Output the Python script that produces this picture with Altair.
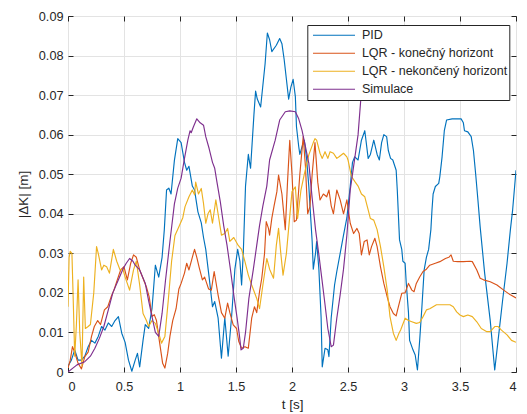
import altair as alt
import pandas as pd

# ---------------- data ----------------
PID_T = [0.00, 0.03, 0.06, 0.09, 0.12, 0.15, 0.18, 0.21, 0.24, 0.27, 0.30, 0.33, 0.36, 0.39, 0.42, 0.45,
         0.48, 0.51, 0.54, 0.57, 0.60, 0.62, 0.64, 0.67, 0.69, 0.72, 0.75, 0.78, 0.81, 0.84, 0.86, 0.88,
         0.90, 0.92, 0.95, 0.98, 1.01, 1.04, 1.06, 1.08, 1.11, 1.13, 1.16, 1.19, 1.21, 1.23, 1.26, 1.29,
         1.31, 1.34, 1.37, 1.40, 1.43, 1.46, 1.49, 1.515, 1.535, 1.55, 1.565, 1.585, 1.61, 1.63, 1.66,
         1.675, 1.69, 1.72, 1.76, 1.78, 1.80, 1.82, 1.86, 1.89, 1.91, 1.93, 1.95, 1.97, 1.99, 2.01, 2.03,
         2.04, 2.06, 2.07, 2.09, 2.11, 2.13, 2.15, 2.18, 2.19, 2.21, 2.22, 2.24, 2.26, 2.27, 2.295, 2.32,
         2.33, 2.35, 2.38, 2.40, 2.43, 2.46, 2.49, 2.52, 2.54, 2.56, 2.59, 2.62, 2.65, 2.68, 2.70, 2.73,
         2.76, 2.78, 2.80, 2.82, 2.845, 2.86, 2.88, 2.90, 2.93, 2.94, 2.96, 2.98, 2.99, 3.01, 3.02, 3.04,
         3.05, 3.08, 3.10, 3.12, 3.14, 3.16, 3.18, 3.20, 3.22, 3.24, 3.25, 3.26, 3.28, 3.31, 3.32, 3.34,
         3.36, 3.38, 3.43, 3.51, 3.53, 3.54, 3.57, 3.60, 3.62, 3.64, 3.66, 3.68, 3.72, 3.77, 3.81, 3.84,
         3.88, 3.92, 3.95, 3.97, 4.00]
PID_V = [0.0015, 0.003, 0.0056, 0.003, 0.003, 0.004, 0.0064, 0.008, 0.0073, 0.009, 0.0115, 0.0106, 0.0124, 0.0115, 0.013, 0.014,
         0.0098, 0.0075, 0.003, 0.0002, 0.003, 0.0047, 0.0013, 0.008, 0.012, 0.011, 0.016, 0.027, 0.024, 0.029, 0.036, 0.046,
         0.0465, 0.045, 0.0535, 0.059, 0.058, 0.053, 0.051, 0.052, 0.047, 0.046, 0.0405, 0.0377, 0.034, 0.031, 0.024, 0.0165,
         0.0178, 0.0137, 0.0035, 0.0137, 0.004, 0.0137, 0.026, 0.031, 0.028, 0.022, 0.030, 0.047, 0.055, 0.0515, 0.065,
         0.071, 0.069, 0.067, 0.078, 0.0857, 0.084, 0.081, 0.0826, 0.0843, 0.083, 0.079, 0.074, 0.069, 0.072, 0.074, 0.0696,
         0.062, 0.057, 0.055, 0.057, 0.0586, 0.054, 0.047, 0.033, 0.026, 0.030, 0.033, 0.026, 0.0137, 0.0013, 0.006, 0.0056,
         0.0039, 0.0137, 0.022, 0.0254, 0.030, 0.0346, 0.039, 0.047, 0.053, 0.0544, 0.0536, 0.0586, 0.061, 0.054, 0.055, 0.0586,
         0.055, 0.0536, 0.058, 0.060, 0.0595, 0.056, 0.054, 0.0536, 0.051, 0.046, 0.0334, 0.031, 0.028, 0.0275, 0.0225, 0.015,
         0.008, 0.0056, 0.0043, 0.0005, 0.008, 0.0165, 0.0258, 0.029, 0.031, 0.036, 0.041, 0.045, 0.0469, 0.0477, 0.0494, 0.0544,
         0.061, 0.0637, 0.064, 0.064, 0.063, 0.061, 0.0607, 0.0595, 0.056, 0.050, 0.0435, 0.0367, 0.025, 0.013, 0.0005, 0.008,
         0.018, 0.0275, 0.036, 0.041, 0.051]

LQRK_T = [0.00, 0.02, 0.04, 0.06, 0.09, 0.12, 0.15, 0.18, 0.21, 0.235, 0.265, 0.29, 0.325, 0.355, 0.385, 0.41,
          0.44, 0.47, 0.50, 0.53, 0.56, 0.585, 0.61, 0.64, 0.665, 0.70, 0.725, 0.75, 0.77, 0.79, 0.815, 0.845,
          0.865, 0.89, 0.91, 0.935, 0.965, 0.99, 1.01, 1.04, 1.06, 1.08, 1.11, 1.13, 1.15, 1.17, 1.20, 1.22,
          1.255, 1.28, 1.305, 1.34, 1.37, 1.40, 1.425, 1.445, 1.475, 1.505, 1.525, 1.55, 1.58, 1.61, 1.64,
          1.665, 1.685, 1.71, 1.73, 1.755, 1.77, 1.79, 1.80, 1.82, 1.84, 1.865, 1.88, 1.91, 1.94, 1.96, 1.98,
          2.00, 2.02, 2.04, 2.07, 2.10, 2.12, 2.14, 2.16, 2.18, 2.205, 2.23, 2.25, 2.28, 2.31, 2.33, 2.35,
          2.37, 2.40, 2.43, 2.46, 2.49, 2.52, 2.55, 2.58, 2.60, 2.62, 2.645, 2.67, 2.69, 2.71, 2.74, 2.76,
          2.79, 2.82, 2.85, 2.875, 2.905, 2.93, 2.95, 2.98, 3.01, 3.04, 3.07, 3.09, 3.11, 3.14, 3.17, 3.20,
          3.23, 3.28, 3.32, 3.37, 3.40, 3.42, 3.44, 3.48, 3.53, 3.59, 3.61, 3.65, 3.68, 3.71, 3.77, 3.83,
          3.89, 3.95, 4.00]
LQRK_V = [0.001, 0.003, 0.0064, 0.005, 0.0022, 0.0008, 0.0039, 0.005, 0.009, 0.0115, 0.013, 0.012, 0.0157, 0.0165, 0.019, 0.0207,
          0.0233, 0.0258, 0.0266, 0.0233, 0.0275, 0.0296, 0.029, 0.0258, 0.024, 0.0215, 0.019, 0.014, 0.0145, 0.013, 0.008, 0.0022,
          0.001, 0.0047, 0.009, 0.013, 0.016, 0.021, 0.0224, 0.025, 0.0275, 0.0258, 0.029, 0.031, 0.029, 0.0266, 0.0233, 0.024,
          0.021, 0.0207, 0.0254, 0.0195, 0.015, 0.0136, 0.0174, 0.015, 0.0119, 0.011, 0.0077, 0.006, 0.0064, 0.006, 0.0136,
          0.0165, 0.015, 0.0203, 0.0237, 0.030, 0.038, 0.0363, 0.0346, 0.0389, 0.042, 0.0456, 0.0498, 0.045, 0.036, 0.048, 0.0586,
          0.050, 0.038, 0.0384, 0.050, 0.0595, 0.052, 0.040, 0.0418, 0.050, 0.058, 0.048, 0.0435, 0.045, 0.0443, 0.046, 0.042,
          0.040, 0.046, 0.0435, 0.040, 0.0435, 0.0376, 0.035, 0.0363, 0.035, 0.0296, 0.033, 0.0334, 0.0296, 0.0317, 0.0338, 0.0317,
          0.0266, 0.0224, 0.019, 0.0165, 0.0148, 0.0142, 0.0165, 0.0199, 0.020, 0.0224, 0.0207, 0.0203, 0.0224, 0.024, 0.0254, 0.026,
          0.027, 0.0275, 0.0279, 0.0287, 0.029, 0.0296, 0.028, 0.0279, 0.0279, 0.028, 0.0279, 0.0258, 0.0237, 0.0233, 0.0228, 0.022,
          0.0207, 0.0195, 0.0187]

LQRN_T = [0.00, 0.01, 0.02, 0.035, 0.045, 0.06, 0.075, 0.09, 0.105, 0.125, 0.14, 0.155, 0.18, 0.20, 0.23, 0.255,
          0.27, 0.30, 0.32, 0.345, 0.37, 0.405, 0.435, 0.465, 0.49, 0.51, 0.55, 0.585, 0.61, 0.64, 0.67, 0.70,
          0.72, 0.75, 0.78, 0.81, 0.835, 0.865, 0.895, 0.925, 0.955, 0.99, 1.025, 1.045, 1.08, 1.11, 1.13, 1.14,
          1.165, 1.19, 1.21, 1.23, 1.25, 1.27, 1.29, 1.32, 1.34, 1.37, 1.40, 1.425, 1.445, 1.48, 1.52, 1.55,
          1.58, 1.61, 1.64, 1.685, 1.71, 1.74, 1.775, 1.80, 1.835, 1.86, 1.88, 1.90, 1.92, 1.95, 1.97, 2.00,
          2.03, 2.05, 2.08, 2.11, 2.15, 2.19, 2.205, 2.22, 2.25, 2.27, 2.295, 2.32, 2.34, 2.37, 2.40, 2.42,
          2.46, 2.49, 2.50, 2.53, 2.56, 2.59, 2.62, 2.65, 2.68, 2.70, 2.73, 2.76, 2.79, 2.82, 2.85, 2.875,
          2.905, 2.93, 2.955, 2.97, 3.01, 3.04, 3.07, 3.11, 3.14, 3.17, 3.20, 3.23, 3.29, 3.35, 3.41, 3.44,
          3.47, 3.50, 3.53, 3.57, 3.61, 3.65, 3.69, 3.74, 3.77, 3.81, 3.84, 3.87, 3.92, 3.96, 4.00]
LQRN_V = [0.0165, 0.029, 0.0305, 0.030, 0.020, 0.004, 0.012, 0.0233, 0.010, 0.0015, 0.024, 0.011, 0.0115, 0.012, 0.020, 0.0317,
          0.030, 0.0258, 0.027, 0.0266, 0.025, 0.031, 0.028, 0.0258, 0.026, 0.024, 0.0207, 0.0258, 0.028, 0.022, 0.0148, 0.013,
          0.0115, 0.013, 0.0123, 0.0098, 0.0073, 0.009, 0.018, 0.028, 0.0345, 0.0367, 0.039, 0.0418, 0.0443, 0.046, 0.0448, 0.048,
          0.045, 0.0464, 0.0426, 0.0376, 0.040, 0.041, 0.0376, 0.0435, 0.040, 0.0346, 0.035, 0.0363, 0.033, 0.034, 0.032, 0.031,
          0.0279, 0.0245, 0.022, 0.0186, 0.016, 0.022, 0.0287, 0.026, 0.0237, 0.032, 0.0363, 0.030, 0.0245, 0.030, 0.0363, 0.0456,
          0.0468, 0.0388, 0.046, 0.050, 0.0549, 0.058, 0.059, 0.0586, 0.0553, 0.054, 0.0557, 0.054, 0.0557, 0.0553, 0.054, 0.0544,
          0.0553, 0.0544, 0.0536, 0.0495, 0.0482, 0.047, 0.045, 0.0443, 0.041, 0.0388, 0.0384, 0.036, 0.0317, 0.0266, 0.0207, 0.014,
          0.0098, 0.008, 0.0098, 0.0106, 0.0136, 0.013, 0.0127, 0.0123, 0.0125, 0.014, 0.0157, 0.016, 0.017, 0.017, 0.017, 0.0165,
          0.0152, 0.0144, 0.014, 0.0144, 0.014, 0.0127, 0.011, 0.0102, 0.0102, 0.0115, 0.0115, 0.0106, 0.0094, 0.008, 0.0075]

# Simulace: the visible part ends where it runs under the legend box
SIM_T = [0.00, 0.08, 0.15, 0.20, 0.24, 0.28, 0.32, 0.36, 0.40, 0.45, 0.49, 0.52, 0.55, 0.58, 0.60, 0.64,
         0.69, 0.72, 0.75, 0.78, 0.81, 0.84, 0.87, 0.91, 0.95, 0.98, 1.01, 1.04, 1.07, 1.09, 1.10, 1.12,
         1.15, 1.18, 1.21, 1.23, 1.26, 1.29, 1.31, 1.33, 1.36, 1.39, 1.42, 1.45, 1.48, 1.51, 1.53, 1.545,
         1.565, 1.585, 1.615, 1.655, 1.685, 1.71, 1.74, 1.775, 1.80, 1.85, 1.89, 1.94, 1.98, 2.03, 2.06,
         2.09, 2.12, 2.15, 2.18, 2.21, 2.24, 2.27, 2.295, 2.32, 2.35, 2.37, 2.40, 2.43, 2.46, 2.49, 2.52,
         2.55, 2.59, 2.615]
SIM_V = [0.0, 0.0018, 0.0026, 0.004, 0.006, 0.0085, 0.0115, 0.0157, 0.020, 0.0233, 0.026, 0.0275, 0.0287, 0.028, 0.027, 0.0258,
         0.0224, 0.018, 0.014, 0.010, 0.009, 0.0148, 0.023, 0.033, 0.0425, 0.0465, 0.049, 0.054, 0.0586, 0.061, 0.0605, 0.062,
         0.064, 0.063, 0.0624, 0.0595, 0.0565, 0.053, 0.0515, 0.048, 0.043, 0.037, 0.032, 0.026, 0.0195, 0.0136, 0.0094, 0.0056,
         0.006, 0.010, 0.0186, 0.026, 0.032, 0.037, 0.042, 0.047, 0.0536, 0.0586, 0.0637, 0.0658, 0.066, 0.0658, 0.064,
         0.061, 0.057, 0.0528, 0.044, 0.036, 0.0296, 0.0228, 0.017, 0.011, 0.0064, 0.0068, 0.0136, 0.0195, 0.026, 0.0346, 0.046,
         0.052, 0.060, 0.0692]

SERIES = ["PID", "LQR - konečný horizont", "LQR - nekončený horizont", "Simulace"]
COLORS = ["#0072BD", "#D95319", "#EDB120", "#7E2F8E"]
X_TICKS = [0, 0.5, 1, 1.5, 2, 2.5, 3, 3.5, 4]
Y_TICKS = [0, 0.01, 0.02, 0.03, 0.04, 0.05, 0.06, 0.07, 0.08, 0.09]

frames = []
for name, ts, vs in zip(SERIES, [PID_T, LQRK_T, LQRN_T, SIM_T], [PID_V, LQRK_V, LQRN_V, SIM_V]):
    frames.append(pd.DataFrame({"t": ts, "v": vs, "series": name, "order": range(len(ts))}))
df = pd.concat(frames, ignore_index=True)

FONT = "Liberation Sans"
INK = "#262626"
GRID = "#e3e3e3"

xscale = alt.Scale(domain=[0, 4], nice=False, zero=False)
yscale = alt.Scale(domain=[0, 0.09], nice=False, zero=False)

lines = alt.Chart(df).mark_line(strokeWidth=1.15, clip=True, strokeJoin="round").encode(
    x=alt.X("t:Q", scale=xscale,
            axis=alt.Axis(title="t [s]", values=X_TICKS, format=".1~f", orient="bottom", offset=-5,
                          tickSize=5, tickColor=INK, domain=False, grid=True, gridColor=GRID,
                          labelPadding=8, titlePadding=5, labelFontSize=12.7, titleFontSize=13.5)),
    y=alt.Y("v:Q", scale=yscale,
            axis=alt.Axis(title="|ΔK| [m]", values=Y_TICKS, format=".2~f", orient="left", offset=-5,
                          tickSize=5, tickColor=INK, domain=False, grid=True, gridColor=GRID,
                          labelPadding=5, titlePadding=8, labelFontSize=12.7, titleFontSize=13.5)),
    color=alt.Color("series:N", scale=alt.Scale(domain=SERIES, range=COLORS),
                    legend=alt.Legend(title=None, orient="none", legendX=239.3, legendY=9,
                                      symbolType="stroke", symbolSize=1764, symbolStrokeWidth=1.2,
                                      clipHeight=17.5, rowPadding=0, padding=1.5, symbolOffset=3.2,
                                      labelOffset=5.9, labelFont=FONT, labelFontSize=12.5,
                                      labelColor=INK, fillColor="white", strokeColor=INK,
                                      labelLimit=300, zindex=2)),
    order="order:Q",
)

ticks = alt.Chart(df).mark_line(strokeOpacity=0).encode(
    x=alt.X("t:Q", scale=xscale,
            axis=alt.Axis(title=None, values=X_TICKS, orient="top", offset=-5, tickSize=5,
                          tickColor=INK, labels=False, domain=False, grid=False)),
    y=alt.Y("v:Q", scale=yscale,
            axis=alt.Axis(title=None, values=Y_TICKS, orient="right", offset=-5, tickSize=5,
                          tickColor=INK, labels=False, domain=False, grid=False)),
    detail="series:N",
)

chart = alt.layer(lines, ticks).resolve_axis(x="independent", y="independent").properties(
    width=448, height=356,
    autosize=alt.AutoSizeParams(type="none"),
    padding={"left": 68, "top": 16, "right": 11, "bottom": 42},
    background="white",
).configure_view(stroke=INK, strokeWidth=1).configure_axis(
    labelFont=FONT, titleFont=FONT, labelColor=INK, titleColor=INK, titleFontWeight="normal",
    gridWidth=1, tickWidth=1,
)

chart.save("out.html", embed_options={"renderer": "svg", "actions": False})
